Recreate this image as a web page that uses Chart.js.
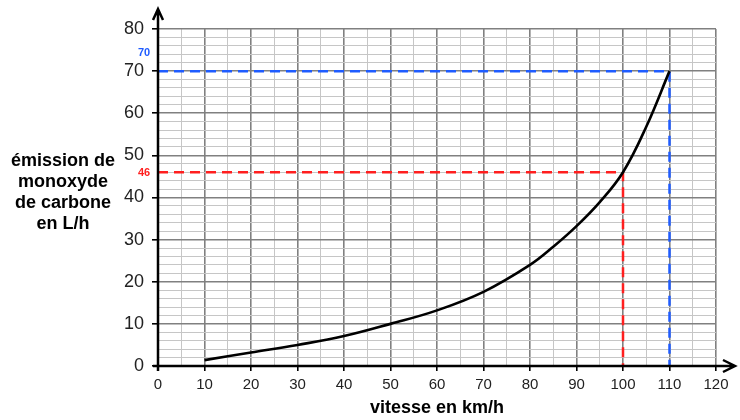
<!DOCTYPE html>
<html>
<head>
<meta charset="utf-8">
<script src="https://cdn.jsdelivr.net/npm/chart.js@4.4.1/dist/chart.umd.min.js"></script>
<style>
  html, body { margin: 0; padding: 0; background: #fff; }
</style>
</head>
<body>
<canvas id="myChart" width="740" height="420"></canvas>
<script>
// curve (km/h -> L/h)
const speeds = [10, 20, 30, 40, 50, 60, 70, 80, 85, 90, 95, 100, 105, 110];
const emissions = [1.4, 3.2, 5.0, 7.1, 10, 13.2, 17.6, 24, 28.3, 33.2, 38.9, 46, 56.8, 70];

// dashed reading lines
const readSpeeds = [100, 110];
const readEmissions = [46, 70];
const readColors = ['#ff1f1f', '#1f5cff'];

const yTitle = ['émission de', 'monoxyde', 'de carbone', 'en L/h'];
const xTitle = 'vitesse en km/h';

const MAJOR = '#808080';
const MINOR = '#c6c6c6';
const FONT = '"Liberation Sans", Arial, sans-serif';

const curve = speeds.map((s, i) => ({ x: s, y: emissions[i] }));

const guides = readSpeeds.map((s, i) => ({
  data: [{ x: 0, y: readEmissions[i] }, { x: s, y: readEmissions[i] }, { x: s, y: 0 }],
  borderColor: readColors[i],
  borderWidth: 2.5,
  borderDash: [10, 6],
  pointRadius: 0,
  tension: 0,
  clip: false
}));

// axes with arrows, y title, reading labels
const extras = {
  id: 'extras',
  afterDatasetsDraw(chart) {
    const ctx = chart.ctx;
    const { left, bottom, top } = chart.chartArea;
    const ys = chart.scales.y;
    ctx.save();
    ctx.strokeStyle = '#000';
    ctx.lineWidth = 2.5;
    ctx.beginPath();
    ctx.moveTo(left, bottom + 5);
    ctx.lineTo(left, top - 20);
    ctx.moveTo(left - 5, top - 9);
    ctx.lineTo(left, top - 20);
    ctx.lineTo(left + 5, top - 9);
    ctx.moveTo(left - 5, bottom);
    ctx.lineTo(735, bottom);
    ctx.moveTo(723, bottom - 6);
    ctx.lineTo(735, bottom);
    ctx.lineTo(723, bottom + 6);
    ctx.stroke();

    ctx.fillStyle = '#000';
    ctx.font = 'bold 18px ' + FONT;
    ctx.textAlign = 'center';
    ctx.textBaseline = 'middle';
    const cy = ys.getPixelForValue(40) - 5;
    yTitle.forEach((t, i) => {
      ctx.fillText(t, left - 95, cy + (i - 1.5) * 20.8);
    });

    ctx.font = 'bold 11px ' + FONT;
    const offs = [1, -18];
    readEmissions.forEach((v, i) => {
      ctx.fillStyle = readColors[i];
      ctx.fillText(String(v), left - 14, ys.getPixelForValue(v) + offs[i]);
    });
    ctx.restore();
  }
};

const ctx = document.getElementById('myChart').getContext('2d');
const myChart = new Chart(ctx, {
  type: 'line',
  data: {
    datasets: [{
      data: curve,
      borderColor: '#000',
      borderWidth: 2.6,
      pointRadius: 0,
      tension: 0.4
    }, ...guides]
  },
  options: {
    responsive: false,
    animation: false,
    layout: { padding: { left: 0, right: 24, top: 29, bottom: 0 } },
    plugins: { legend: { display: false }, tooltip: { enabled: false } },
    scales: {
      x: {
        type: 'linear',
        min: 0,
        max: 120,
        afterFit: s => { s.height = 54; },
        border: { display: false },
        grid: {
          color: c => c.tick.value % 10 === 0 ? MAJOR : MINOR,
          lineWidth: c => c.tick.value % 10 === 0 ? 1.6 : 1,
          tickColor: c => c.tick.value % 10 === 0 ? '#000' : 'rgba(0,0,0,0)',
          tickLength: 5
        },
        ticks: {
          stepSize: 5,
          autoSkip: false,
          maxRotation: 0,
          padding: 5,
          color: '#222',
          font: { family: FONT, size: 15 },
          callback: v => v % 10 === 0 ? v : ''
        },
        title: {
          display: true,
          text: xTitle,
          color: '#000',
          font: { family: FONT, size: 18, weight: 'bold' },
          padding: { top: 0, bottom: 1 }
        }
      },
      y: {
        min: 0,
        max: 80,
        afterFit: s => { s.width = 158; },
        border: { display: false },
        grid: {
          color: c => c.tick.value % 10 === 0 ? MAJOR : MINOR,
          lineWidth: c => c.tick.value % 10 === 0 ? 1.6 : 1,
          tickColor: c => c.tick.value % 10 === 0 ? '#000' : 'rgba(0,0,0,0)',
          tickLength: 6
        },
        ticks: {
          stepSize: 2,
          autoSkip: false,
          padding: 8,
          color: '#222',
          font: { family: FONT, size: 18 },
          callback: v => v % 10 === 0 ? v : ''
        }
      }
    }
  },
  plugins: [extras]
});
</script>
</body>
</html>
